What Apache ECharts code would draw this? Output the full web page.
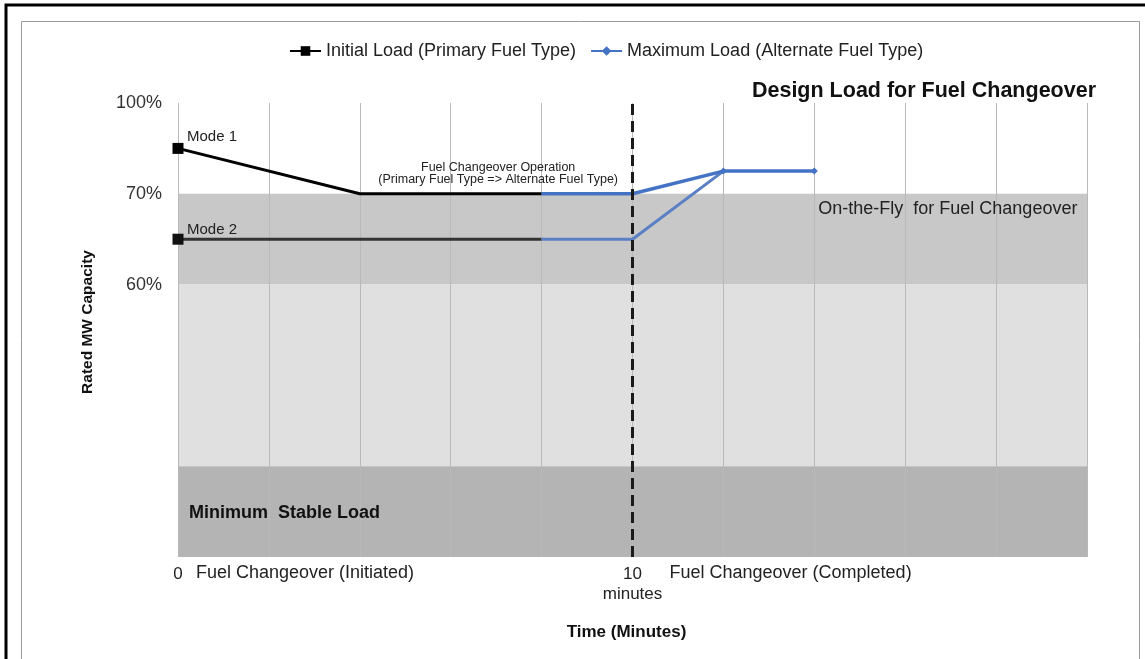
<!DOCTYPE html>
<html><head><meta charset="utf-8">
<style>html,body{margin:0;padding:0;background:#fff}#c{width:1145px;height:659px}</style>
<script src="https://cdn.jsdelivr.net/npm/echarts@6/dist/echarts.min.js"></script>
</head><body><div id="c"></div>
<script>
// ---- data ----
const xTicks = [0,2,4,6,8,10,12,14,16,18,20];           // minutes (grid every 2 min)
const xTickLabels = {0: '0', 10: '10\nminutes'};
const yTickLabels = {5: '100%', 4: '70%', 3: '60%'};     // y axis is a 0..5 level scale
const initialMode1 = [[0,4.5],[4,4],[8,4]];
const initialMode2 = [[0,3.5],[8,3.5]];
const maxMode1 = [[8,4],[10,4],[12,4.25],[14,4.25]];
const maxMode2 = [[8,3.5],[10,3.5],[12,4.25]];
const bands = [[4,3,'#c8c8c8'],[3,1,'#e0e0e0'],[1,0,'#b4b4b4']];
const changeoverMinute = 10;

const FONT = '"Liberation Sans", Arial, sans-serif';
const chart = echarts.init(document.getElementById('c'));

function marked(arr, markIdx){
  return arr.map((p,i)=> markIdx.includes(i) ? {value:p} : {value:p, symbol:'none'});
}
const nameA = 'Initial Load (Primary Fuel Type)';
const nameB = 'Maximum Load (Alternate Fuel Type)';

chart.setOption({
  animation:false,
  textStyle:{fontFamily:FONT},
  grid:{left:178, right:58, top:103, bottom:102},
  legend:{
    left:284, top:37, itemWidth:31, itemHeight:12, itemGap:14,
    textStyle:{fontSize:18, color:'#222', fontFamily:FONT},
    data:[nameA, nameB]
  },
  xAxis:{
    type:'value', min:0, max:20, interval:2, z:3,
    axisLine:{show:false}, axisTick:{show:false},
    splitLine:{show:true, lineStyle:{color:'#b9b9b9', width:1}},
    axisLabel:{
      margin:7, fontSize:17, color:'#222', lineHeight:20,
      formatter:v=> xTickLabels[v] !== undefined ? xTickLabels[v] : ''
    },
    name:'Time (Minutes)', nameLocation:'middle', nameGap:67,
    nameTextStyle:{fontSize:17, fontWeight:'bold', color:'#111', padding:[0,12,0,0]}
  },
  yAxis:{
    type:'value', min:0, max:5, interval:1, z:3,
    axisLine:{show:false}, axisTick:{show:false}, splitLine:{show:false},
    axisLabel:{
      margin:16, fontSize:18, color:'#333',
      formatter:v=> yTickLabels[v] || ''
    },
    name:'Rated MW Capacity', nameLocation:'middle', nameGap:82,
    nameTextStyle:{fontSize:15.5, fontWeight:'bold', color:'#111', padding:[0,0,0,16]}
  },
  series:[
    { type:'line', name:'bands', data:[], z:1, silent:true,
      markArea:{silent:true, z:1, data: bands.map(b=>[
        {yAxis:b[0], itemStyle:{color:b[2]}}, {yAxis:b[1]}
      ])}
    },
    { type:'line', name:nameA, data:marked(initialMode1,[0]), symbol:'rect', symbolSize:11,
      color:'#000', lineStyle:{width:3, color:'#000'}, itemStyle:{color:'#000'}, z:6 },
    { type:'line', name:nameA, data:marked(initialMode2,[0]), symbol:'rect', symbolSize:11,
      color:'#000', lineStyle:{width:3, color:'#333'}, itemStyle:{color:'#111'}, z:6 },
    { type:'line', name:nameB, data:marked(maxMode1,[2,3]), symbol:'diamond', symbolSize:7,
      color:'#4472C4', lineStyle:{width:3.5, color:'#4472C4'}, itemStyle:{color:'#4472C4'}, z:7 },
    { type:'line', name:nameB, data:marked(maxMode2,[]), symbol:'diamond', symbolSize:7,
      color:'#4472C4', lineStyle:{width:3, color:'#5a7fc4'}, itemStyle:{color:'#4472C4'}, z:6,
      markLine:{silent:true, z:8, symbol:'none', label:{show:false},
        lineStyle:{color:'#1a1a1a', width:3, type:[11,6]},
        data:[{xAxis:changeoverMinute}]}
    }
  ]
});

function px(x,y){ return chart.convertToPixel({gridIndex:0}, [x,y]); }
function txt(x,y,text,opt){
  return Object.assign({type:'text', x:x, y:y, z:10,
    style:Object.assign({text:text, fill:'#222', font:'18px '+FONT, textVerticalAlign:'middle'}, opt||{})});
}
const p0 = px(0,0), p10 = px(changeoverMinute,0), pTop = px(20,5);
const m1 = px(0,4.5), m2 = px(0,3.5);
const op = px(7,4), fly = px(14,4), msl = px(0,0.5);
chart.setOption({graphic:[
  {type:'rect', shape:{x:21.5, y:21.5, width:1118, height:660}, style:{fill:'none', stroke:'#9a9a9a', lineWidth:1}, z:0},
  {type:'rect', shape:{x:6, y:5, width:1145, height:670}, style:{fill:'none', stroke:'#000', lineWidth:3}, z:0},
  txt(pTop[0]+9, pTop[1]-12, 'Design Load for Fuel Changeover', {textAlign:'right', font:'bold 21.5px '+FONT, fill:'#111'}),
  txt(m1[0]+9, m1[1]-12, 'Mode 1', {font:'15px '+FONT}),
  txt(m2[0]+9, m2[1]-9, 'Mode 2', {font:'15px '+FONT}),
  txt(op[0]+2, op[1]-26, 'Fuel Changeover Operation', {textAlign:'center', font:'12.5px '+FONT}),
  txt(op[0]+2, op[1]-14, '(Primary Fuel Type => Alternate Fuel Type)', {textAlign:'center', font:'12.5px '+FONT}),
  txt(fly[0]+4, fly[1]+15, 'On-the-Fly  for Fuel Changeover', {font:'18px '+FONT}),
  txt(msl[0]+11, msl[1]+1, 'Minimum  Stable Load', {font:'bold 18px '+FONT, fill:'#111'}),
  txt(p0[0]+18, p0[1]+16, 'Fuel Changeover (Initiated)', {font:'18px '+FONT}),
  txt(p10[0]+37, p10[1]+16, 'Fuel Changeover (Completed)', {font:'18px '+FONT})
]});
</script></body></html>
